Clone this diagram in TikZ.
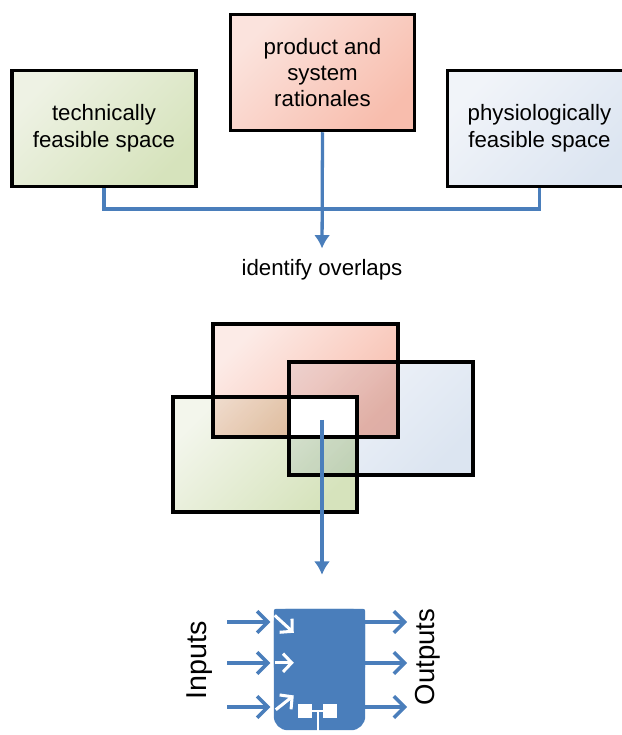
\documentclass[tikz,border=0pt]{standalone}
\usepackage{fontspec}
\setmainfont{Liberation Sans}
\usetikzlibrary{arrows.meta,positioning}
\definecolor{flow}{HTML}{4A7EBB}
\definecolor{techlight}{HTML}{EEF2E4}
\definecolor{techdark}{HTML}{D6E3BC}
\definecolor{ratlight}{HTML}{FBE3DD}
\definecolor{ratdark}{HTML}{F8BDAD}
\definecolor{physlight}{HTML}{F1F4F9}
\definecolor{physdark}{HTML}{DCE5F1}

\begin{document}
\begin{tikzpicture}[font=\fontsize{19}{22.5}\selectfont,
 >={Latex[length=4mm,width=4.8mm]},
 space/.style={draw=black,line width=3pt,minimum width=5.52cm,
   minimum height=3.48cm,align=center,inner sep=0pt},
 flowline/.style={flow,line width=2.8pt},
 port/.style={flow,line width=3pt,-{Straight Barb[length=3.2mm,width=6.5mm]}},
 tip/.style={white,line width=2.6pt,-{Straight Barb[length=2.6mm,width=5.5mm]}}]
\path[use as bounding box] (0,0) rectangle (18.66,22.05);
% the three spaces
\node[space,left color=techlight,middle color=techdark,right color=techdark,shading angle=45]
 (tech) at (3.12,18.2) {technically\\feasible space};
\node[space,left color=ratlight,middle color=ratdark,right color=ratdark,shading angle=45]
 (prod) at (9.675,19.875) {product and\\system\\rationales};
\node[space,left color=physlight,middle color=physdark,right color=physdark,shading angle=45]
 (phys) at (16.185,18.2) {physiologically\\feasible space};
\coordinate (merge) at (9.66,15.78);
\node (overlaps) at (9.66,13.95) {identify overlaps};
\draw[flowline] (tech.south) |- (merge) -| (phys.south);
\draw[flowline,->,shorten >=6pt] (prod.south) -- (overlaps.north);
% overlapping spaces
\shade[blend mode=multiply,left color=ratlight!70!white,right color=ratdark,shading angle=45]
 (6.39,8.94) rectangle (11.94,12.33);
\shade[blend mode=multiply,left color=physlight,right color=physdark,shading angle=45]
 (8.67,7.8) rectangle (14.19,11.19);
\shade[blend mode=multiply,left color=techlight!70!white,right color=techdark,shading angle=45]
 (5.19,6.69) rectangle (10.71,10.14);
\fill[white] (8.67,8.94) rectangle (10.71,10.14);
\draw[line width=3pt] (6.39,8.94) rectangle (11.94,12.33)
 (8.67,7.8) rectangle (14.19,11.19) (5.19,6.69) rectangle (10.71,10.14);
\coordinate (core) at (9.66,9.45);
% system block
\node[minimum width=2.73cm,minimum height=3.63cm,inner sep=0pt]
 (module) at (9.585,1.965) {};
\fill[flow,rounded corners=12pt] (module.south west) rectangle (module.north east);
\fill[flow,rounded corners=2pt] (module.west) rectangle (module.north east);
\draw[flowline,->,shorten >=1.02cm] (core) -- (core |- module.north);
\begin{scope}[shift={(module.north west)}]
  \draw[tip] (0.03,-0.2) -- (0.6,-0.72);
  \draw[tip] (0.03,-1.62) -- (0.6,-1.62);
  \draw[tip] (0.06,-3.03) -- (0.6,-2.6);
  \fill[white] (0.72,-2.85) rectangle (1.14,-3.27);
  \fill[white] (1.47,-2.85) rectangle (1.9,-3.27);
  \draw[white,line width=1.8pt] (1.14,-3.06) -- (1.47,-3.06)
    (1.32,-3.06) -- (1.32,-3.9);
\end{scope}
\foreach \k/\y in {1/3.39,2/2.16,3/0.84}{
  \coordinate (in\k) at (6.81,\y);
  \coordinate (out\k) at (12.21,\y);
  \draw[port,shorten >=3pt] (in\k) -- (in\k -| module.west);
  \draw[port] (out\k -| module.east) -- (out\k);
}
\node[rotate=90,font=\fontsize{24.5}{28}\selectfont] (inputs) at (6.0,2.25) {Inputs};
\node[rotate=90,font=\fontsize{23.5}{28}\selectfont] (outputs) at (12.84,2.34) {Outputs};
\end{tikzpicture}
\end{document}
